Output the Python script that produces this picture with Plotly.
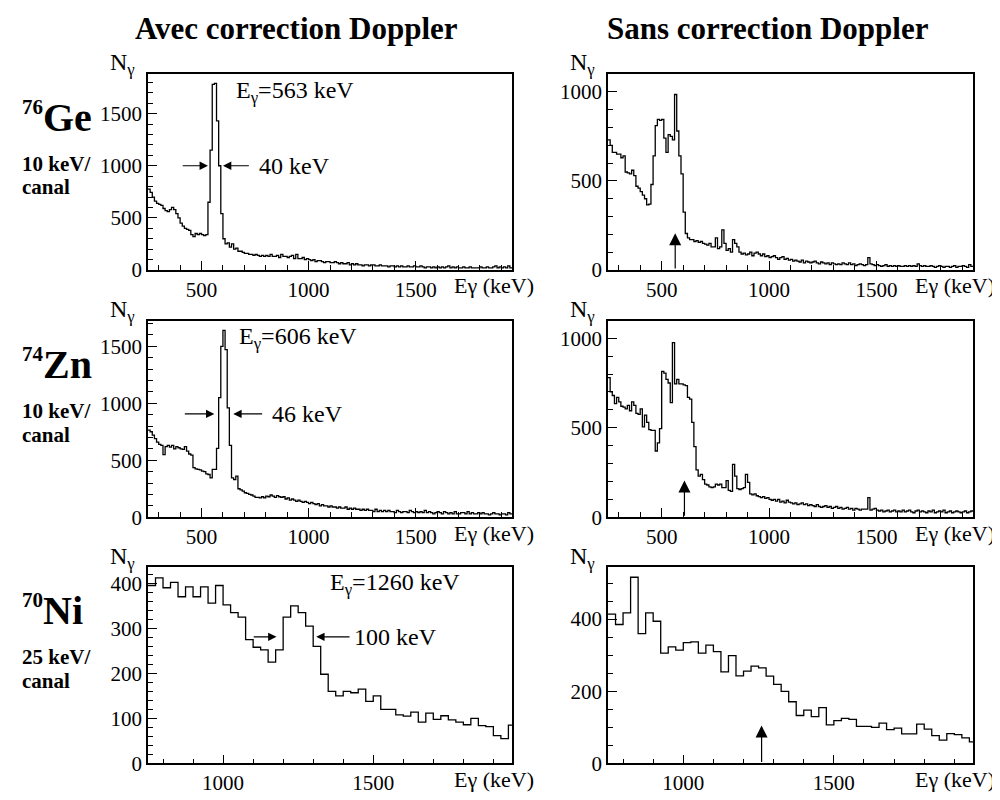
import plotly.graph_objects as go

FONT = "Liberation Serif, Times New Roman, Times, serif"
W, H = 1000, 800

# ---------------- data (counts per channel) ----------------
# 76Ge, 10 keV/channel, first channel starts at 250 keV
ge_start, ge_width = 250, 10
ge_corr = [
    775, 745, 700, 660, 640, 630, 620, 590, 570, 560,
    580, 600, 580, 540, 500, 450, 420, 400, 390, 380,
    340, 320, 350, 340, 350, 340, 330, 340, 650, 1150,
    1780, 1790, 1430, 1000, 540, 300, 250, 260, 220, 250,
    200, 210, 180, 180, 170, 160, 160, 150, 150, 140,
    150, 140, 130, 140, 130, 140, 130, 150, 130, 130,
    140, 120, 150, 130, 130, 120, 130, 140, 110, 150,
    110, 110, 120, 100, 110, 100, 90, 100, 80, 90,
    90, 80, 70, 80, 80, 70, 70, 80, 70, 60,
    70, 60, 60, 70, 50, 60, 50, 60, 50, 50,
    40, 50, 50, 40, 50, 50, 40, 40, 50, 40,
    40, 40, 30, 40, 40, 30, 40, 30, 40, 30,
    30, 40, 30, 30, 40, 30, 30, 40, 30, 20,
    30, 30, 20, 30, 20, 30, 20, 30, 20, 30,
    40, 20, 30, 20, 30, 20, 20, 30, 20, 20,
    30, 20, 20, 20, 20, 30, 20, 20, 30, 20,
    20, 30, 40, 20, 30, 20, 30, 20, 40, 20,
]
ge_raw = [
    730, 700, 660, 660, 650, 650, 630, 640, 550, 545,
    540, 560, 530, 470, 460, 440, 420, 400, 365, 370,
    480, 640, 810, 845, 840, 845, 740, 660, 760, 750,
    730, 985, 780, 640, 540, 325, 205, 180, 170, 170,
    160, 165, 155, 160, 150, 145, 140, 150, 130, 130,
    180, 120, 130, 225, 150, 110, 120, 100, 170, 150,
    130, 100, 90, 95, 85, 90, 100, 80, 95, 100,
    90, 80, 90, 75, 80, 70, 75, 80, 70, 60,
    70, 75, 60, 65, 55, 60, 50, 55, 50, 45,
    55, 40, 50, 45, 40, 45, 50, 40, 35, 45,
    40, 35, 40, 30, 40, 35, 30, 35, 30, 40,
    35, 30, 40, 30, 35, 25, 30, 35, 30, 25,
    30, 70, 35, 30, 25, 30, 25, 20, 25, 30,
    20, 25, 20, 25, 20, 25, 20, 20, 25, 20,
    25, 20, 25, 20, 35, 25, 20, 25, 20, 20,
    25, 20, 15, 20, 25, 20, 15, 20, 20, 15,
    20, 25, 15, 20, 20, 25, 20, 15, 30, 20,
]

# 74Zn, 10 keV/channel, first channel starts at 250 keV
zn_start, zn_width = 250, 10
zn_corr = [
    765, 750, 720, 690, 660, 640, 630, 550, 620, 630,
    615, 630, 600, 620, 610, 600, 595, 620, 580, 555,
    545, 435, 425, 420, 415, 405, 400, 380, 375, 345,
    420, 420, 605, 1050, 1500, 1640, 1470, 960, 630, 345,
    330, 360, 250, 240, 230, 215, 210, 200, 195, 185,
    175, 175, 170, 180, 170, 185, 180, 195, 185, 175,
    190, 180, 175, 180, 160, 170, 150, 160, 150, 140,
    150, 140, 130, 140, 130, 120, 130, 120, 110, 120,
    100, 110, 100, 100, 90, 100, 90, 90, 80, 90,
    80, 80, 90, 70, 80, 70, 80, 70, 70, 60,
    70, 60, 70, 60, 60, 50, 70, 50, 60, 50,
    60, 50, 60, 50, 50, 40, 60, 50, 40, 50,
    50, 40, 60, 50, 40, 50, 40, 50, 40, 60,
    40, 50, 40, 30, 40, 50, 40, 30, 50, 40,
    30, 40, 30, 50, 30, 30, 40, 40, 30, 50,
    30, 40, 30, 30, 40, 30, 40, 30, 30, 20,
    30, 40, 30, 30, 20, 30, 30, 20, 40, 30,
]
zn_raw = [
    780, 700, 680, 635, 670, 645, 620, 615, 605, 625,
    595, 645, 625, 580, 575, 605, 505, 570, 530, 490,
    485, 485, 370, 415, 495, 815, 805, 770, 750, 640,
    975, 745, 770, 745, 745, 740, 735, 670, 660, 530,
    395, 265, 230, 240, 210, 185, 180, 170, 165, 170,
    185, 180, 185, 165, 165, 205, 150, 145, 295, 230,
    160, 155, 160, 165, 240, 195, 130, 125, 130, 120,
    115, 110, 115, 105, 110, 100, 95, 100, 90, 100,
    85, 90, 80, 95, 85, 80, 75, 80, 70, 75,
    80, 70, 75, 65, 70, 65, 60, 70, 60, 55,
    60, 65, 55, 60, 50, 55, 60, 50, 55, 45,
    50, 55, 45, 50, 40, 50, 45, 40, 45, 45,
    45, 110, 40, 45, 50, 40, 35, 40, 30, 35,
    40, 30, 35, 40, 30, 35, 30, 40, 30, 35,
    40, 30, 25, 35, 40, 30, 35, 30, 25, 35,
    30, 40, 25, 30, 35, 30, 40, 25, 30, 35,
    25, 30, 35, 30, 25, 30, 35, 25, 30, 35,
]

# 70Ni, 25 keV/channel, first channel starts at 750 keV
ni_start, ni_width = 750, 25
ni_corr = [
    395, 412, 390, 402, 370, 392, 370, 392, 356, 395,
    352, 335, 325, 275, 258, 252, 225, 252, 325, 350,
    335, 305, 260, 198, 160, 150, 160, 157, 165, 138,
    150, 120, 120, 108, 105, 114, 92, 112, 98, 106,
    97, 92, 86, 100, 84, 82, 62, 55, 85,
]
ni_raw = [
    414, 385, 417, 516, 360, 417, 394, 306, 323, 314,
    335, 337, 306, 328, 310, 254, 299, 243, 256, 270,
    265, 242, 219, 200, 171, 133, 148, 130, 155, 107,
    119, 125, 122, 103, 103, 100, 112, 94, 98, 82,
    82, 109, 95, 77, 65, 83, 80, 71, 60,
]

# transition energies (keV) and peak widths (keV)
e_ge, e_zn, e_ni = 563, 606, 1260
fwhm_ge, fwhm_zn, fwhm_ni = 40, 46, 100

col_titles = ["Avec correction Doppler", "Sans correction Doppler"]
row_nuclei = [("76", "Ge"), ("74", "Zn"), ("70", "Ni")]
row_binning = ["10 keV/", "10 keV/", "25 keV/"]

# ---------------- layout geometry (pixels) ----------------
COLS = [(140, 504), (600, 965)]
ROWS = [(67, 266), (318, 517), (568, 767)]

panels = [
    dict(r=0, c=0, start=ge_start, width=ge_width, vals=ge_corr, xr=[250, 1950], yr=[0, 1880], ydt=500, ymn=100),
    dict(r=0, c=1, start=ge_start, width=ge_width, vals=ge_raw, xr=[250, 1950], yr=[0, 1100], ydt=500, ymn=100),
    dict(r=1, c=0, start=zn_start, width=zn_width, vals=zn_corr, xr=[250, 1950], yr=[0, 1720], ydt=500, ymn=100),
    dict(r=1, c=1, start=zn_start, width=zn_width, vals=zn_raw, xr=[250, 1950], yr=[0, 1095], ydt=500, ymn=100),
    dict(r=2, c=0, start=ni_start, width=ni_width, vals=ni_corr, xr=[750, 1962], yr=[0, 435], ydt=100, ymn=20),
    dict(r=2, c=1, start=ni_start, width=ni_width, vals=ni_raw, xr=[750, 1962], yr=[0, 543], ydt=200, ymn=50),
]

fig = go.Figure()
tickfont = dict(family=FONT, size=21, color="black")
annotations = []


def paper(px, py):
    return px / W, 1 - py / H


def ptext(px, py, text, size, xanchor="left", yanchor="middle", bold=False):
    x, y = paper(px, py)
    if bold:
        text = "<b>" + text + "</b>"
    return dict(x=x, y=y, xref="paper", yref="paper", xanchor=xanchor, yanchor=yanchor,
                text=text, showarrow=False, font=dict(family=FONT, size=size, color="black"))


for i, p in enumerate(panels, start=1):
    sfx = "" if i == 1 else str(i)
    edges = [p["start"] + k * p["width"] for k in range(len(p["vals"]) + 1)]
    yy = list(p["vals"]) + [p["vals"][-1]]
    fig.add_trace(go.Scatter(
        x=edges, y=yy, mode="lines",
        line=dict(shape="hv", color="black", width=1.3),
        xaxis="x" + sfx, yaxis="y" + sfx, showlegend=False, hoverinfo="skip"))
    x0, x1 = COLS[p["c"]]
    y0, y1 = ROWS[p["r"]]
    common = dict(showline=True, mirror=True, linecolor="black", linewidth=1.5,
                  ticks="inside", ticklen=9, tickwidth=1, tickcolor="black",
                  showgrid=False, zeroline=False, tickfont=tickfont)
    fig.update_layout(**{
        "xaxis" + sfx: dict(domain=[x0 / W, x1 / W], anchor="y" + sfx, range=p["xr"],
                            tickmode="linear", tick0=0, dtick=500,
                            minor=dict(dtick=100, tick0=0, ticks="inside", ticklen=5,
                                       tickwidth=1, tickcolor="black"),
                            **common),
        "yaxis" + sfx: dict(domain=[1 - y1 / H, 1 - y0 / H], anchor="x" + sfx, range=p["yr"],
                            tickmode="linear", tick0=0, dtick=p["ydt"],
                            minor=dict(dtick=p["ymn"], tick0=0, ticks="inside", ticklen=5,
                                       tickwidth=1, tickcolor="black"),
                            **common),
    })
    # axis titles
    annotations.append(ptext(x0 - 40, y0 - 10, "N<sub>γ</sub>", 24))
    annotations.append(ptext(x1 - 60, y1 + 16, "Eγ (keV)", 22))

# column titles
for c, t in enumerate(col_titles):
    annotations.append(ptext([288, 760][c], 1, t, 31, xanchor="center", yanchor="top", bold=True))

# row labels
for r, ((mass, sym), binning) in enumerate(zip(row_nuclei, row_binning)):
    off = [0, 251, 501][r]
    annotations.append(ptext(12, 100 + off, mass, 21, bold=True))
    annotations.append(ptext(33, 111 + off, sym, 40, bold=True))
    annotations.append(ptext(12, 158 + off, binning, 21, bold=True))
    annotations.append(ptext(12, 182 + off, "canal", 21, bold=True))

txtfont = dict(family=FONT, size=24, color="black")


def arrow(ax_id, x, y, axx, ayy, size=1.4):
    return dict(x=x, y=y, ax=axx, ay=ayy, xref="x" + ax_id, yref="y" + ax_id,
                axref="x" + ax_id, ayref="y" + ax_id, showarrow=True, text="",
                arrowhead=2, arrowsize=size, arrowwidth=1.2, arrowcolor="black")


def label(ax_id, x, y, text):
    return dict(x=x, y=y, xref="x" + ax_id, yref="y" + ax_id, xanchor="left", yanchor="middle",
                text=text, showarrow=False, font=txtfont)


# 76Ge corrected
annotations += [
    label("", 650, 1705, "E<sub>γ</sub>=%d keV" % e_ge),
    arrow("", 530, 1000, 405, 1000),
    arrow("", 600, 1000, 728, 1000),
    label("", 760, 1000, "%d keV" % fwhm_ge),
]
# 74Zn corrected
annotations += [
    label("3", 665, 1569, "E<sub>γ</sub>=%d keV" % e_zn),
    arrow("3", 560, 907, 415, 907),
    arrow("3", 648, 907, 790, 907),
    label("3", 818, 907, "%d keV" % fwhm_zn),
]
# 70Ni corrected
annotations += [
    label("5", 1348, 398, "E<sub>γ</sub>=%d keV" % e_ni),
    arrow("5", 1178, 281, 1097, 281),
    arrow("5", 1310, 281, 1426, 281),
    label("5", 1430, 281, "%d keV" % fwhm_ni),
]
# vertical arrows on uncorrected spectra
annotations += [
    arrow("2", e_ge, 207, e_ge, 0, size=2.0),
    arrow("4", e_zn, 205, e_zn, 0, size=2.0),
    arrow("6", e_ni, 105, e_ni, 0, size=2.0),
]

fig.update_layout(
    width=W, height=H, margin=dict(l=0, r=0, t=0, b=0, pad=0),
    paper_bgcolor="white", plot_bgcolor="white",
    annotations=annotations, showlegend=False,
)

fig.write_html("out.html")
